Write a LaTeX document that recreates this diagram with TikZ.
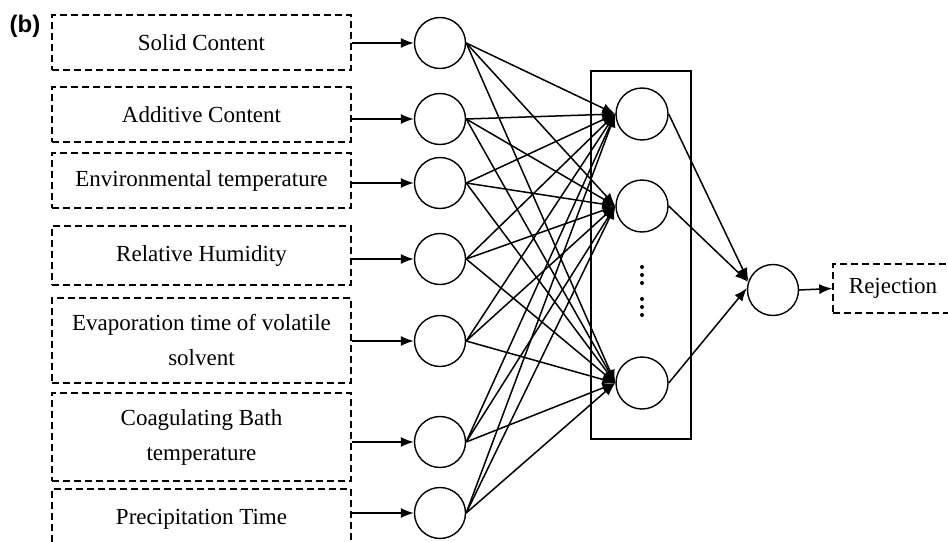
\documentclass[tikz,border=0pt]{standalone}
\usepackage{fontspec}
\setmainfont{Liberation Serif}
\newfontfamily\tagfont{Liberation Sans}
\usetikzlibrary{arrows.meta}

\tikzset{
  inbox/.style={draw,line width=1.5pt,dash pattern=on 7pt off 4pt,minimum width=299pt,inner sep=2pt,align=center,font=\fontsize{23}{35}\selectfont},
  neuron/.style={draw,circle,line width=1.4pt,minimum size=51pt,inner sep=0pt},
  link/.style={line width=1.5pt,->},
}

\begin{document}
\begin{tikzpicture}[x=1pt,y=-1pt,>={Latex[length=13pt,width=10pt]}]
\useasboundingbox (0,0) rectangle (948,541);
\clip (0,0) rectangle (948,541);

% Panel tag
\node[font=\tagfont\bfseries\fontsize{24}{28}\selectfont] (tag) at (25,26) {(b)};

% Input variables
\node[inbox,minimum height=55pt] (b1) at (201.5,42.5) {Solid Content};
\node[inbox,minimum height=55pt] (b2) at (201.5,114.5) {Additive Content};
\node[inbox,minimum height=55pt] (b3) at (201.5,180.5) {Environmental temperature};
\node[inbox,minimum height=59pt] (b4) at (201.5,255.5) {Relative Humidity};
\node[inbox,minimum height=85pt] (b5) at (201.5,340.5) {Evaporation time of volatile\\solvent};
\node[inbox,minimum height=88pt] (b6) at (201.5,437) {Coagulating Bath\\temperature};
\node[inbox,minimum height=60pt] (b7) at (201.5,519) {Precipitation Time};

% Input layer
\foreach \i/\y in {1/43,2/119,3/183,4/259,5/341,6/442,7/513}
  \node[neuron] (i\i) at (440,\y) {};

\foreach \i in {1,...,7}
  \draw[link] (b\i.east |- i\i.west) -- (i\i.west);

% Hidden layer
\node[draw,line width=1.4pt,minimum width=100pt,minimum height=368pt,inner sep=0pt] (hbox) at (641,255) {};
\node[neuron,minimum size=52pt] (h1) at (642,114) {};
\node[neuron,minimum size=52pt] (h2) at (642,206) {};
\node[neuron,minimum size=52pt] (h3) at (642,383) {};
\foreach \y in {267,275,283,299,307,315}
  \fill (642,\y) circle (2pt);

\foreach \i in {1,...,7}
  \foreach \j in {1,2,3}
    \draw[link] (i\i.east) -- (h\j.west);

% Output layer
\node[neuron] (out) at (773,290) {};
\node[inbox,minimum width=120pt,minimum height=49pt] (rej) at (893,288.5) {Rejection};

\foreach \j/\a in {1/160,2/162,3/176}
  \draw[link] (h\j.east) -- (out.\a);
\draw[link] (out.east) -- (rej.west);

\end{tikzpicture}
\end{document}
